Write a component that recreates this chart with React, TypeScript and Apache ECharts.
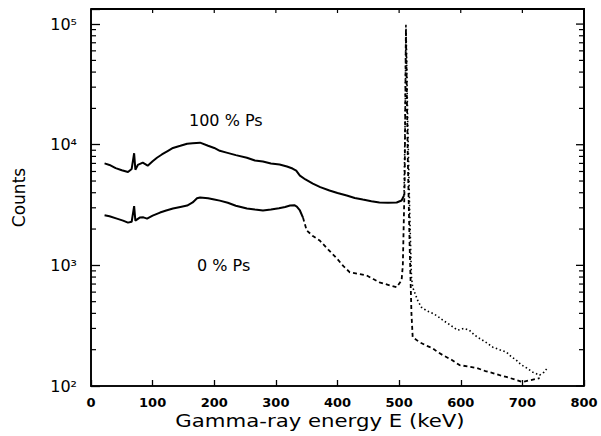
import React, { useEffect, useRef } from "react";
import * as echarts from "echarts";

// Energy (keV), counts
const ps100Main: [number, number][] = [
  [22, 7000], [30, 6800], [40, 6400], [50, 6150], [60, 5950], [66, 6300], [70, 8500], [72, 6200],
  [76, 6800], [84, 7100], [92, 6700], [100, 7300], [107, 7800], [115, 8300], [125, 8900], [133, 9400],
  [145, 9800], [156, 10200], [165, 10300], [177, 10400], [190, 9800], [200, 9400], [209, 8900],
  [220, 8600], [235, 8200], [253, 7800], [266, 7400], [279, 7250], [292, 7000], [306, 6850],
  [318, 6600], [327, 6350], [333, 6100], [339, 5550], [348, 5150], [360, 4760], [372, 4450],
  [387, 4170], [400, 3980], [415, 3790], [428, 3620], [441, 3510], [455, 3400], [468, 3320],
  [482, 3300], [496, 3320], [504, 3450], [508, 3800],
];
const ps100Tail: [number, number][] = [
  [508, 3800], [510, 20000], [511, 100000], [512, 60000], [514, 15000], [517, 3000], [520, 800],
  [522, 658], [530, 514], [536, 450], [545, 420], [554, 401], [562, 380], [571, 351], [583, 320],
  [595, 290], [605, 300], [614, 290], [622, 265], [630, 249], [641, 230], [652, 210], [663, 200],
  [674, 191], [682, 175], [690, 164], [698, 150], [707, 141], [717, 130], [728, 123], [735, 130],
  [742, 144],
];
const ps0Main: [number, number][] = [
  [22, 2600], [30, 2550], [42, 2440], [52, 2350], [60, 2260], [66, 2300], [70, 3100], [72, 2350],
  [79, 2490], [85, 2500], [91, 2440], [100, 2580], [112, 2740], [122, 2850], [133, 2960],
  [145, 3050], [156, 3130], [165, 3320], [172, 3600], [177, 3650], [190, 3600], [200, 3520],
  [209, 3440], [222, 3300], [235, 3120], [253, 2960], [266, 2900], [279, 2850], [292, 2900],
  [305, 2980], [315, 3050], [323, 3130], [330, 3150], [334, 3070], [339, 2850], [344, 2490],
];
const ps0Tail: [number, number][] = [
  [344, 2490], [350, 1950], [360, 1750], [371, 1610], [385, 1350], [399, 1140], [410, 980],
  [420, 875], [433, 850], [447, 826], [458, 770], [468, 724], [482, 690], [496, 658], [504, 751],
  [506, 1000], [509, 5000], [511, 90000], [512, 40000], [514, 8000], [517, 1500], [520, 400],
  [522, 254], [533, 231], [545, 215], [554, 206], [562, 192], [571, 180], [585, 165], [598, 149],
  [612, 145], [626, 141], [640, 133], [652, 128], [663, 123], [674, 119], [688, 113], [700, 108],
  [714, 112], [728, 116],
];
const minorTickValues = [
  200, 300, 400, 500, 600, 700, 800, 900,
  2000, 3000, 4000, 5000, 6000, 7000, 8000, 9000,
  20000, 30000, 40000, 50000, 60000, 70000, 80000, 90000,
];
const majorTickValues = [100, 1000, 10000, 100000];
const topTickValues = [100, 200, 300, 400, 500, 600, 700];
const seriesLabels = ["100 % Ps", "0 % Ps"];
const xTitle = "Gamma-ray energy E (keV)";
const yTitle = "Counts";

const FONT = "DejaVu Sans";
const sup: Record<number, string> = { 2: "²", 3: "³", 4: "⁴", 5: "⁵" };

const GRID = { left: 91, right: 17, top: 9, bottom: 50 };
const W = 601;
const H = 436;

export default function App() {
  const ref = useRef<HTMLDivElement>(null);
  useEffect(() => {
    if (!ref.current) return;
    const chart = echarts.init(ref.current, null, { renderer: "svg" });
    const yMax = Math.pow(10, 5.125);
    const seg = (x1: number, y1: number, x2: number, y2: number, w = 1.2) => ({
      type: "line", shape: { x1, y1, x2, y2 }, style: { stroke: "#000", lineWidth: w },
    });
    const custom = (data: number[][], renderItem: any) => ({
      type: "custom", silent: true, clip: false, data, renderItem, z: 5,
    });
    const pw = W - GRID.left - GRID.right;
    const ph = H - GRID.top - GRID.bottom;
    chart.setOption({
      animation: false,
      backgroundColor: "#fff",
      grid: { ...GRID, show: true, borderColor: "#000", borderWidth: 1.6, backgroundColor: "transparent" },
      xAxis: {
        type: "value", min: 0, max: 800, interval: 100, position: "bottom",
        axisLine: { show: true, onZero: false, lineStyle: { color: "#000", width: 1.6 } },
        splitLine: { show: false },
        axisTick: { show: true, inside: true, length: 6, lineStyle: { color: "#000", width: 1.3 } },
        axisLabel: { color: "#000", fontSize: 13, fontWeight: "bold", fontFamily: FONT, margin: 10,
          formatter: (v: number) => String(v) },
      },
      yAxis: {
        type: "log", logBase: 10, min: 100, max: yMax, position: "left",
        axisLine: { show: true, onZero: false, lineStyle: { color: "#000", width: 1.6 } },
        splitLine: { show: false }, minorTick: { show: false },
        axisTick: { show: true, inside: true, length: 9, lineStyle: { color: "#000", width: 1.3 } },
        axisLabel: {
          color: "#000", fontSize: 16, fontFamily: FONT, margin: 14,
          formatter: (v: number) => {
            const l = Math.log10(v);
            const r = Math.round(l);
            return Math.abs(l - r) < 1e-6 ? "10" + (sup[r] || "") : "";
          },
        },
        name: yTitle, nameLocation: "middle", nameGap: 64,
        nameTextStyle: { color: "#000", fontSize: 17, fontFamily: FONT },
      },
      series: [
        {
          type: "line", data: ps100Main, showSymbol: false, symbol: "none",
          lineStyle: { color: "#000", width: 2 },
        },
        {
          type: "line", data: ps100Tail, showSymbol: false, symbol: "none",
          lineStyle: { color: "#000", width: 1.6, type: [1.5, 2.5] },
        },
        {
          type: "line", data: ps0Main, showSymbol: false, symbol: "none",
          lineStyle: { color: "#000", width: 2 },
        },
        {
          type: "line", data: ps0Tail, showSymbol: false, symbol: "none",
          lineStyle: { color: "#000", width: 1.8, type: [4, 3] },
        },
        // minor ticks, both sides
        custom(minorTickValues.map((v) => [400, v]), (_p: any, api: any) => {
          const v = api.value(1);
          const l = api.coord([0, v]);
          const r = api.coord([800, v]);
          return {
            type: "group",
            children: [seg(l[0], l[1], l[0] + 5, l[1]), seg(r[0] - 5, r[1], r[0], r[1])],
          };
        }),
        // major ticks, right side
        custom(majorTickValues.map((v) => [400, v]), (_p: any, api: any) => {
          const v = api.value(1);
          const l = api.coord([0, v]);
          const r = api.coord([800, v]);
          return {
            type: "group",
            children: [seg(l[0], l[1], l[0] + 1, l[1]), seg(r[0] - 8, r[1], r[0], r[1], 1.3)],
          };
        }),
        // top ticks (x from the x scale, y at the same pixel as 10^5 tick shifted to grid top)
        custom(topTickValues.map((v) => [v, 1000]), (_p: any, api: any) => {
          const b = api.coord([api.value(0), 1000]);
          return { type: "group", children: [seg(b[0], GRID.top, b[0], GRID.top + 4)] };
        }),
      ],
      graphic: [
        {
          type: "polyline", silent: true, z: 100,
          shape: { points: [[GRID.left, GRID.top], [GRID.left + pw, GRID.top], [GRID.left + pw, GRID.top + ph]] },
          style: { stroke: "#000", lineWidth: 2, fill: "transparent" },
        },
        { type: "text", x: 189, y: 120, style: { text: seriesLabels[0], fontSize: 16, fontFamily: FONT, fill: "#000", textVerticalAlign: "middle" } },
        { type: "text", x: 197, y: 265, style: { text: seriesLabels[1], fontSize: 16, fontFamily: FONT, fill: "#000", textVerticalAlign: "middle" } },
        { type: "text", x: 320, y: 421, scaleX: 1.25, style: { text: xTitle, fontSize: 17, fontFamily: FONT, fill: "#000", textAlign: "center", textVerticalAlign: "middle" } },
      ],
    });
    return () => chart.dispose();
  }, []);
  return <div ref={ref} style={{ width: W, height: H, position: "absolute", left: 0, top: 0 }} />;
}
